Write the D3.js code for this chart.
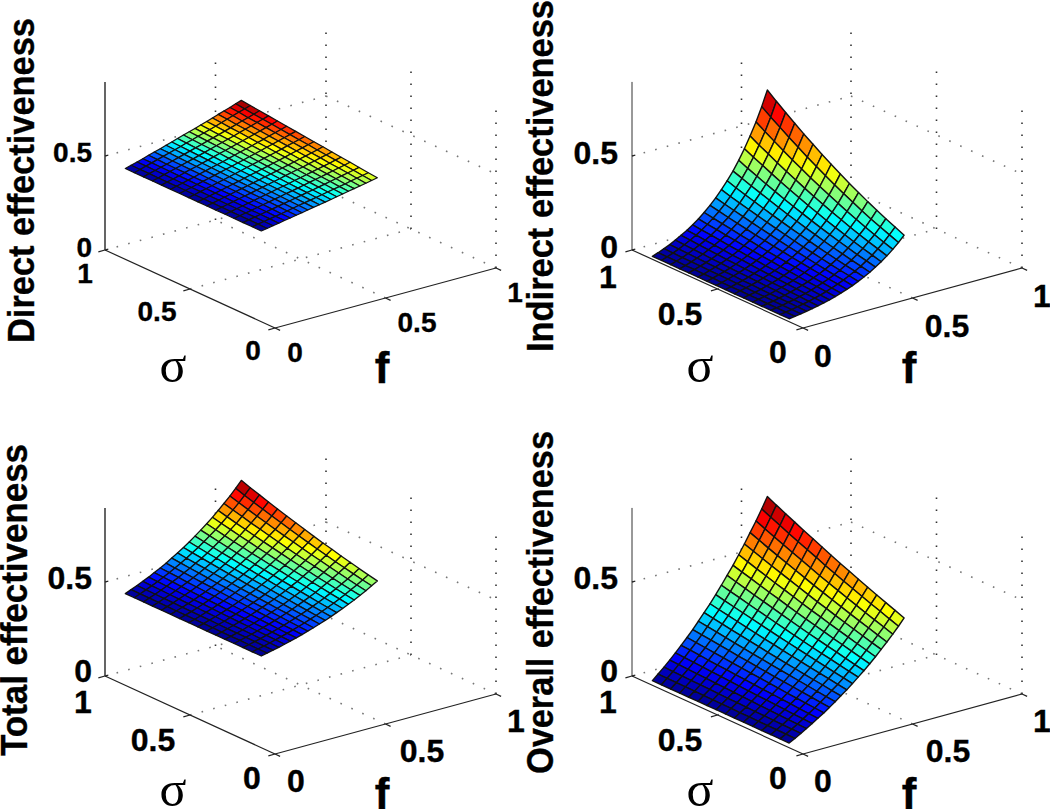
<!DOCTYPE html>
<html>
<head>
<meta charset="utf-8">
<script src="https://cdn.jsdelivr.net/npm/d3@7"></script>
<style>
  html, body { margin: 0; padding: 0; background: #fff; }
  svg { display: block; }
  text { font-family: "Liberation Sans", Arial, sans-serif; font-weight: bold; fill: #000; stroke: #000; stroke-width: 0.35px; }
</style>
</head>
<body>
<div id="content-area"></div>
<script>
// values
const sigmaValues = [0.1, 0.153, 0.207, 0.26, 0.313, 0.367, 0.42, 0.473, 0.527, 0.58, 0.633, 0.687, 0.74, 0.793, 0.847, 0.9];
const fValues = [0.015, 0.041, 0.068, 0.094, 0.12, 0.146, 0.173, 0.199, 0.225, 0.251, 0.278, 0.304, 0.33, 0.356, 0.383, 0.409, 0.435, 0.461, 0.488, 0.514, 0.54];

const zTicks = [0, 0.5];
const sigmaTicks = [0, 0.5, 1];
const fTicks = [0, 0.5, 1];

// one row per sigma value, one column per f value
const directValues = [
  [.470,.475,.481,.486,.492,.497,.503,.508,.514,.520,.525,.531,.537,.543,.549,.555,.561,.567,.573,.579,.585],
  [.470,.476,.481,.487,.492,.498,.504,.510,.516,.522,.528,.534,.540,.546,.552,.558,.564,.571,.577,.584,.590],
  [.470,.476,.482,.488,.494,.500,.506,.512,.518,.524,.531,.537,.543,.550,.556,.563,.569,.576,.583,.589,.596],
  [.470,.476,.482,.488,.495,.501,.507,.514,.520,.527,.533,.539,.546,.553,.560,.566,.573,.580,.587,.594,.601],
  [.470,.476,.483,.489,.495,.502,.509,.515,.522,.529,.535,.542,.549,.556,.563,.570,.577,.584,.591,.599,.606],
  [.470,.477,.483,.490,.497,.503,.510,.517,.524,.531,.538,.545,.553,.560,.567,.574,.582,.589,.597,.604,.612],
  [.470,.477,.484,.491,.498,.505,.512,.519,.526,.533,.541,.548,.555,.563,.570,.578,.586,.593,.601,.609,.617],
  [.470,.477,.484,.491,.498,.506,.513,.520,.528,.536,.543,.551,.558,.566,.574,.582,.590,.598,.606,.614,.622],
  [.470,.477,.485,.492,.500,.507,.515,.522,.530,.538,.546,.554,.562,.570,.578,.586,.594,.603,.611,.619,.628],
  [.470,.478,.485,.493,.501,.508,.516,.524,.532,.540,.548,.556,.565,.573,.581,.590,.598,.607,.616,.624,.633],
  [.470,.478,.486,.494,.501,.510,.518,.526,.534,.542,.551,.559,.568,.576,.585,.594,.602,.611,.620,.629,.638],
  [.470,.478,.486,.494,.503,.511,.519,.528,.536,.545,.554,.562,.571,.580,.589,.598,.607,.616,.625,.635,.644],
  [.470,.478,.487,.495,.503,.512,.521,.529,.538,.547,.556,.565,.574,.583,.592,.602,.611,.620,.630,.639,.649],
  [.470,.479,.487,.496,.504,.513,.522,.531,.540,.549,.558,.568,.577,.586,.596,.605,.615,.625,.634,.644,.654],
  [.470,.479,.488,.497,.506,.515,.524,.533,.542,.552,.561,.571,.580,.590,.600,.610,.620,.630,.640,.650,.660],
  [.470,.479,.488,.497,.507,.516,.525,.535,.544,.554,.564,.573,.583,.593,.603,.613,.624,.634,.644,.655,.665]
];

const indirectValues = [
  [.003,.007,.012,.017,.023,.030,.037,.045,.054,.064,.075,.087,.101,.116,.133,.152,.172,.195,.221,.249,.280],
  [.003,.008,.013,.019,.025,.032,.040,.048,.058,.069,.081,.094,.109,.125,.143,.163,.185,.210,.237,.268,.301],
  [.003,.008,.013,.020,.026,.034,.042,.052,.062,.074,.086,.100,.116,.134,.153,.174,.198,.225,.254,.287,.323],
  [.003,.008,.014,.021,.028,.036,.045,.055,.066,.079,.092,.107,.124,.143,.164,.187,.212,.241,.272,.307,.346],
  [.003,.009,.015,.022,.030,.039,.048,.059,.071,.084,.099,.115,.133,.153,.175,.200,.227,.258,.292,.329,.370],
  [.003,.009,.016,.023,.032,.041,.051,.063,.076,.090,.105,.123,.142,.163,.187,.214,.243,.276,.312,.352,.396],
  [.003,.010,.017,.025,.034,.044,.055,.067,.080,.096,.112,.131,.151,.174,.200,.228,.259,.294,.333,.376,.422],
  [.003,.010,.018,.026,.036,.046,.058,.071,.086,.102,.120,.139,.161,.186,.213,.243,.277,.314,.355,.401,.451],
  [.003,.010,.019,.028,.038,.049,.062,.076,.091,.108,.127,.148,.172,.198,.227,.259,.294,.334,.378,.427,.480],
  [.003,.011,.020,.029,.040,.052,.066,.080,.097,.115,.135,.158,.183,.210,.241,.275,.313,.355,.402,.454,.510],
  [.003,.011,.021,.031,.043,.055,.069,.085,.103,.122,.143,.167,.194,.223,.256,.292,.333,.377,.427,.482,.542],
  [.003,.012,.022,.033,.045,.059,.074,.090,.109,.129,.152,.177,.206,.237,.272,.310,.353,.400,.453,.512,.575],
  [.003,.012,.023,.035,.047,.062,.078,.095,.115,.137,.161,.188,.218,.251,.288,.328,.374,.424,.480,.542,.610],
  [.003,.013,.024,.036,.050,.065,.082,.101,.122,.145,.170,.199,.230,.265,.304,.348,.396,.449,.508,.574,.645],
  [.003,.014,.025,.038,.053,.069,.087,.106,.128,.153,.180,.210,.243,.280,.322,.367,.418,.474,.537,.606,.682],
  [.003,.014,.027,.040,.056,.073,.091,.112,.135,.161,.190,.222,.257,.296,.339,.388,.441,.501,.567,.640,.720]
];

const totalValues = [
  [.475,.482,.489,.496,.504,.512,.521,.530,.540,.550,.561,.572,.584,.597,.610,.624,.639,.655,.671,.689,.707],
  [.475,.482,.489,.497,.505,.514,.523,.533,.543,.553,.565,.576,.589,.602,.616,.631,.646,.663,.680,.698,.717],
  [.475,.482,.490,.498,.507,.516,.525,.535,.546,.557,.569,.581,.594,.608,.622,.638,.654,.671,.689,.708,.728],
  [.475,.483,.491,.499,.508,.518,.528,.538,.549,.561,.573,.586,.600,.614,.629,.646,.663,.680,.699,.719,.740],
  [.475,.483,.491,.500,.510,.519,.530,.541,.552,.564,.577,.591,.605,.620,.636,.653,.670,.689,.709,.729,.751],
  [.475,.483,.492,.501,.511,.521,.532,.544,.556,.569,.582,.596,.611,.627,.643,.661,.680,.699,.720,.741,.764],
  [.475,.484,.493,.502,.513,.523,.535,.547,.559,.572,.586,.601,.617,.633,.650,.669,.688,.708,.730,.752,.776],
  [.475,.484,.494,.504,.514,.525,.537,.550,.563,.577,.591,.607,.623,.640,.658,.677,.697,.718,.741,.764,.789],
  [.475,.484,.494,.505,.516,.528,.540,.553,.567,.581,.596,.612,.629,.647,.666,.686,.707,.729,.753,.777,.803],
  [.475,.485,.495,.506,.518,.530,.543,.556,.571,.586,.602,.618,.636,.655,.674,.695,.717,.740,.764,.790,.817],
  [.475,.485,.496,.507,.519,.532,.545,.560,.574,.590,.607,.624,.643,.662,.682,.704,.727,.751,.776,.803,.831],
  [.475,.486,.497,.509,.521,.534,.548,.563,.579,.595,.612,.630,.650,.670,.691,.714,.737,.763,.789,.817,.846],
  [.475,.486,.498,.510,.523,.537,.551,.567,.583,.600,.618,.637,.657,.678,.700,.723,.748,.774,.802,.831,.861],
  [.475,.487,.499,.512,.525,.540,.555,.571,.587,.605,.624,.643,.664,.686,.709,.734,.759,.787,.815,.845,.877],
  [.475,.487,.500,.513,.527,.542,.558,.574,.592,.610,.630,.650,.672,.695,.719,.744,.771,.799,.829,.860,.893],
  [.475,.488,.501,.515,.529,.545,.561,.578,.597,.616,.636,.657,.680,.704,.729,.755,.783,.812,.843,.876,.910]
];

const overallValues = [
  [.012,.028,.046,.064,.082,.102,.122,.143,.165,.188,.211,.236,.262,.288,.316,.345,.376,.407,.440,.474,.510],
  [.012,.029,.047,.065,.085,.105,.126,.148,.170,.194,.218,.244,.271,.298,.327,.358,.389,.422,.456,.491,.528],
  [.012,.030,.048,.067,.087,.108,.130,.153,.176,.201,.226,.253,.280,.309,.339,.370,.403,.437,.472,.509,.547],
  [.012,.030,.049,.069,.090,.112,.134,.158,.182,.207,.234,.261,.290,.320,.351,.383,.417,.452,.488,.526,.566],
  [.012,.031,.051,.071,.093,.115,.138,.163,.188,.214,.241,.270,.299,.330,.362,.396,.431,.467,.505,.544,.585],
  [.012,.032,.052,.073,.096,.119,.143,.168,.194,.221,.249,.279,.309,.341,.375,.409,.445,.483,.522,.563,.605],
  [.012,.032,.053,.076,.098,.122,.147,.173,.200,.228,.257,.288,.319,.352,.387,.423,.460,.499,.539,.581,.625],
  [.012,.033,.055,.078,.101,.126,.152,.178,.206,.235,.265,.297,.329,.363,.399,.436,.474,.515,.556,.600,.645],
  [.012,.034,.056,.080,.104,.130,.156,.184,.213,.242,.274,.306,.340,.375,.412,.450,.490,.531,.574,.619,.666],
  [.012,.034,.058,.082,.107,.134,.161,.190,.219,.250,.282,.316,.351,.387,.425,.465,.506,.549,.593,.640,.688],
  [.012,.035,.059,.084,.110,.138,.166,.195,.226,.258,.291,.326,.362,.400,.439,.480,.522,.566,.612,.660,.710],
  [.012,.036,.061,.087,.113,.141,.171,.201,.233,.266,.300,.336,.373,.412,.452,.494,.538,.584,.631,.680,.732],
  [.012,.037,.062,.089,.117,.145,.176,.207,.240,.273,.309,.346,.384,.424,.466,.509,.554,.601,.650,.701,.754],
  [.012,.037,.064,.091,.120,.150,.181,.213,.247,.282,.318,.356,.396,.437,.480,.524,.571,.619,.670,.722,.777],
  [.012,.038,.065,.094,.123,.154,.186,.219,.254,.290,.327,.366,.407,.450,.494,.540,.588,.638,.690,.744,.800],
  [.012,.039,.067,.096,.126,.158,.191,.225,.261,.298,.337,.377,.419,.463,.508,.556,.605,.657,.710,.766,.824]
];

const w = 1050;
const h = 809;

// where each panel sits on the page, the values come from the arrays above
const panels = [
  { title: "Direct effectiveness", values: directValues, ox: 275, oy: 328, dx: 170, tickSize: 28, zAxisW: 1.8, zAxisC: "#555", meshW: 1.2,
    titleX: 34, titleY: 343, titleLen: 325,
    zLabels: [[92, 257], [92, 162]], sigmaLabels: [[253, 360], [157, 321], [85, 283]], fLabels: [[295, 362], [417, 332], [515, 302]],
    sigmaName: [173, 382], fName: [382, 383] },
  { title: "Indirect effectiveness", values: indirectValues, ox: 803, oy: 328, dx: 171, tickSize: 32, zAxisW: 1, zAxisC: "#333", meshW: 1.4,
    titleX: 553, titleY: 352, titleLen: 352,
    zLabels: [[618, 258], [618, 164]], sigmaLabels: [[778, 363], [680, 325], [608, 288]], fLabels: [[823, 367], [947, 337], [1042, 307]],
    sigmaName: [700, 382], fName: [909, 383] },
  { title: "Total effectiveness", values: totalValues, ox: 275, oy: 754, dx: 170, tickSize: 32, zAxisW: 1.8, zAxisC: "#555", meshW: 1.3,
    titleX: 27, titleY: 756, titleLen: 312,
    zLabels: [[92, 682], [92, 589]], sigmaLabels: [[252, 789], [153, 751], [83, 713]], fLabels: [[296, 792], [422, 762], [516, 732]],
    sigmaName: [173, 806], fName: [382, 809] },
  { title: "Overall effectiveness", values: overallValues, ox: 803, oy: 754, dx: 171, tickSize: 32, zAxisW: 1, zAxisC: "#333", meshW: 1.4,
    titleX: 553, titleY: 774, titleLen: 343,
    zLabels: [[618, 682], [618, 589]], sigmaLabels: [[778, 789], [680, 751], [608, 713]], fLabels: [[823, 792], [948, 762], [1042, 732]],
    sigmaName: [700, 806], fName: [909, 809] }
];

// jet colormap
const jet = d3.scaleLinear()
  .domain([0, 0.125, 0.375, 0.625, 0.875, 1])
  .range(["#000090", "#0000ff", "#00ffff", "#ffff00", "#ff0000", "#800000"]);

const svg = d3.select("#content-area")
  .append("svg")
  .attr("width", w)
  .attr("height", h);

svg.append("rect").attr("width", w).attr("height", h).attr("fill", "#fff");

panels.forEach(drawPanel);

function drawPanel(p) {
  const g = svg.append("g");
  const zTop = 0.894;

  // the 3d box is three linear scales added together
  const xSigma = d3.scaleLinear().domain([0, 1]).range([0, -p.dx]);
  const ySigma = d3.scaleLinear().domain([0, 1]).range([0, -78]);
  const xF = d3.scaleLinear().domain([0, 1]).range([0, 221 - (p.dx - 170) * 2]);
  const yF = d3.scaleLinear().domain([0, 1]).range([0, -60]);
  const yZ = d3.scaleLinear().domain([0, 1]).range([0, -188]);

  function project(sigma, f, z) {
    return [p.ox + xSigma(sigma) + xF(f), p.oy + ySigma(sigma) + yF(f) + yZ(z)];
  }

  const line = d3.line();

  // dotted grid on the floor and the two back walls
  const grid = [];
  sigmaTicks.slice(1).forEach(function(s) {
    grid.push({ pts: [project(s, 0, 0), project(s, 1, 0)], c: "#777" });
  });
  fTicks.slice(1).forEach(function(f) {
    grid.push({ pts: [project(0, f, 0), project(1, f, 0)], c: "#777" });
  });
  // horizontal lines on the walls
  grid.push({ pts: [project(1, 0, 0.5), project(1, 1, 0.5)], c: "#777" });
  grid.push({ pts: [project(1, 1, 0.5), project(0, 1, 0.5)], c: "#777" });
  // verticals on the walls
  grid.push({ pts: [project(1, 0.5, 0), project(1, 0.5, zTop)], c: "#333" });
  grid.push({ pts: [project(1, 1, 0), project(1, 1, zTop)], c: "#333" });
  grid.push({ pts: [project(0.5, 1, 0), project(0.5, 1, zTop)], c: "#333" });
  grid.push({ pts: [project(0, 1, 0), project(0, 1, zTop)], c: "#333" });

  g.selectAll(".grid")
    .data(grid)
    .enter()
    .append("path")
    .attr("class", "grid")
    .attr("d", function(d) { return line(d.pts); })
    .attr("fill", "none")
    .attr("stroke", function(d) { return d.c; })
    .attr("stroke-width", 1.6)
    .attr("stroke-dasharray", "1.6 10.4");

  // axis lines
  const axes = [
    { pts: [project(1, 0, 0), project(0, 0, 0)], c: "#222", sw: 1.2 },
    { pts: [project(0, 0, 0), project(0, 1, 0)], c: "#222", sw: 1.2 },
    { pts: [project(1, 0, 0), project(1, 0, zTop)], c: p.zAxisC, sw: p.zAxisW }
  ];
  sigmaTicks.forEach(function(s) {
    axes.push({ pts: [project(s, 0, 0), project(s, -0.03, 0)], c: "#222", sw: 1.2 });
  });
  fTicks.forEach(function(f) {
    axes.push({ pts: [project(0, f, 0), project(-0.03, f, 0)], c: "#222", sw: 1.2 });
  });
  zTicks.forEach(function(z) {
    axes.push({ pts: [project(1, 0, z), project(1, 0.015, z)], c: "#222", sw: 1.2 });
  });

  g.selectAll(".axis")
    .data(axes)
    .enter()
    .append("path")
    .attr("class", "axis")
    .attr("d", function(d) { return line(d.pts); })
    .attr("fill", "none")
    .attr("stroke", function(d) { return d.c; })
    .attr("stroke-width", function(d) { return d.sw; });

  // surface cells, far ones first
  const allZ = d3.merge(p.values);
  const color = d3.scaleLinear().domain(d3.extent(allZ)).range([0, 1]);
  const cells = [];
  for (let i = sigmaValues.length - 2; i >= 0; i--) {
    for (let j = fValues.length - 2; j >= 0; j--) {
      const zs = [p.values[i][j], p.values[i][j + 1], p.values[i + 1][j + 1], p.values[i + 1][j]];
      cells.push({
        pts: [
          project(sigmaValues[i], fValues[j], zs[0]),
          project(sigmaValues[i], fValues[j + 1], zs[1]),
          project(sigmaValues[i + 1], fValues[j + 1], zs[2]),
          project(sigmaValues[i + 1], fValues[j], zs[3])
        ],
        z: d3.mean(zs)
      });
    }
  }

  g.selectAll(".cell")
    .data(cells)
    .enter()
    .append("path")
    .attr("class", "cell")
    .attr("d", function(d) { return line(d.pts) + "Z"; })
    .attr("fill", function(d) { return jet(color(d.z)); })
    .attr("stroke", "#111")
    .attr("stroke-width", p.meshW)
    .attr("stroke-linejoin", "round");

  // tick labels
  function addLabels(ticks, spots, anchor) {
    g.selectAll(null)
      .data(ticks)
      .enter()
      .append("text")
      .text(function(d) { return d; })
      .attr("x", function(d, i) { return spots[i][0]; })
      .attr("y", function(d, i) { return spots[i][1]; })
      .attr("text-anchor", anchor)
      .attr("font-size", p.tickSize + "px");
  }
  addLabels(zTicks, p.zLabels, "end");
  addLabels(sigmaTicks, p.sigmaLabels, "middle");
  addLabels(fTicks, p.fLabels, "middle");

  // axis names
  g.append("text")
    .text(p.title)
    .attr("transform", "translate(" + p.titleX + "," + p.titleY + ") rotate(-90)")
    .attr("font-size", "36px")
    .attr("textLength", p.titleLen)
    .attr("lengthAdjust", "spacingAndGlyphs");

  g.append("text")
    .text("σ")
    .attr("x", p.sigmaName[0])
    .attr("y", p.sigmaName[1])
    .attr("text-anchor", "middle")
    .style("font-family", "'Liberation Serif', serif")
    .style("font-weight", "normal")
    .style("stroke-width", "0")
    .attr("font-size", "50px");

  g.append("text")
    .text("f")
    .attr("x", p.fName[0])
    .attr("y", p.fName[1])
    .attr("text-anchor", "middle")
    .attr("font-size", "44px");
}
</script>
</body>
</html>
